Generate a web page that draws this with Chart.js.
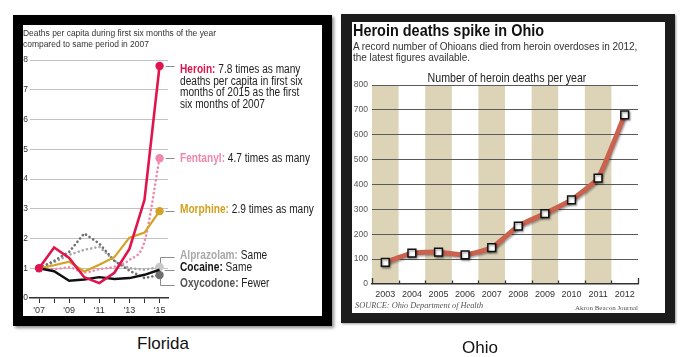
<!DOCTYPE html>
<html><head><meta charset="utf-8">
<script src="https://cdn.jsdelivr.net/npm/chart.js@4.4.1/dist/chart.umd.min.js"></script>
<style>
html,body{margin:0;padding:0;background:#fff;width:696px;height:357px;overflow:hidden;}
body{position:relative;font-family:"Liberation Sans",Arial,sans-serif;}
.abs{position:absolute;white-space:nowrap;transform-origin:0 0;}
#flFrame{position:absolute;left:13px;top:15px;width:299px;height:291px;border:10px solid #000;box-shadow:2px 2px 3px rgba(0,0,0,0.45);background:#fff;}
#ohFrame{position:absolute;left:341px;top:14px;width:313px;height:291px;border-style:solid;border-color:#1c1c1c;border-width:8px 10px 10px 11px;box-shadow:1px 1px 2px rgba(0,0,0,0.4);background:#fff;}
canvas{position:absolute;left:0;top:0;}
.ann{font-size:12.5px;line-height:11.7px;color:#222;transform:scaleX(0.81);}
.ann b{font-weight:bold;}
</style>
</head><body>

<div id="flFrame"><canvas id="fl" width="299" height="291"></canvas></div>
<div id="ohFrame"><canvas id="oh" width="313" height="291"></canvas></div>

<!-- Florida texts -->
<div class="abs" style="left:23px;top:28px;font-size:9.2px;line-height:10.7px;color:#333;transform:scaleX(0.92);">Deaths per capita during first six months of the year<br>compared to same period in 2007</div>
<div class="abs ann" style="left:180px;top:64px;"><b style="color:#d9164b">Heroin:</b> 7.8 times as many<br>deaths per capita in first six<br>months of 2015 as the first<br>six months of 2007</div>
<div class="abs ann" style="left:180px;top:153px;"><b style="color:#ee88a8">Fentanyl:</b> 4.7 times as many</div>
<div class="abs ann" style="left:180px;top:204px;"><b style="color:#d3a01e">Morphine:</b> 2.9 times as many</div>
<div class="abs ann" style="left:180px;top:250px;"><b style="color:#a9a9a9">Alprazolam:</b> Same</div>
<div class="abs ann" style="left:180px;top:262px;"><b style="color:#111">Cocaine:</b> Same</div>
<div class="abs ann" style="left:180px;top:278px;"><b style="color:#555">Oxycodone:</b> Fewer</div>
<div class="abs" style="left:113px;width:100px;text-align:center;top:334px;font-size:17px;line-height:20px;color:#111;">Florida</div>

<!-- Ohio texts -->
<div class="abs" style="left:353px;top:23px;font-size:17px;line-height:16px;font-weight:bold;color:#111;transform:scaleX(0.85);">Heroin deaths spike in Ohio</div>
<div class="abs" style="left:353px;top:41px;font-size:10px;line-height:11px;letter-spacing:-0.05px;color:#333;">A record number of Ohioans died from heroin overdoses in 2012,<br>the latest figures available.</div>
<div class="abs" style="left:407px;width:200px;text-align:center;top:71px;font-size:12.8px;line-height:13px;color:#222;transform:scaleX(0.83);transform-origin:100px 0;">Number of heroin deaths per year</div>
<div class="abs" style="left:355px;top:301px;font-family:'Liberation Serif','Times New Roman',serif;font-style:italic;font-size:8.3px;line-height:9px;color:#555;">SOURCE: Ohio Department of Health</div>
<div class="abs" style="left:538px;width:100px;text-align:right;top:304px;font-family:'Liberation Serif','Times New Roman',serif;font-size:7px;line-height:8px;color:#555;">Akron Beacon Journal</div>
<div class="abs" style="left:430px;width:100px;text-align:center;top:338px;font-size:17px;line-height:20px;color:#111;">Ohio</div>

<script>
// ---------- Florida data ----------
const flYears      = [2007, 2008, 2009, 2010, 2011, 2012, 2013, 2014, 2015];
const flLabelYears = [2007, 2009, 2011, 2013, 2015];
const flYTicks     = [0, 1, 2, 3, 4, 5, 6, 7, 8];
const heroin     = [1, 1.70, 1.35, 0.70, 0.50, 0.85, 1.65, 3.30, 7.80];
const fentanyl   = [1, 0.97, 1.03, 0.86, 0.97, 1.05, 1.28, 1.90, 4.70];
const morphine   = [1, 1.10, 1.22, 0.89, 1.12, 1.37, 2.03, 2.20, 2.92];
const alprazolam = [1, 1.20, 1.45, 1.62, 1.72, 1.25, 1.00, 0.95, 1.04];
const oxycodone  = [1, 1.25, 1.55, 2.17, 1.83, 1.25, 0.92, 0.67, 0.77];
const cocaine    = [1, 0.90, 0.58, 0.62, 0.70, 0.64, 0.67, 0.78, 0.95];

// ---------- Ohio data ----------
const ohYears  = ['2003','2004','2005','2006','2007','2008','2009','2010','2011','2012'];
const ohDeaths = [87, 124, 128, 117, 146, 233, 283, 338, 426, 680];
const ohYTicks = [0, 100, 200, 300, 400, 500, 600, 700, 800];

const FONT = '"Liberation Sans",Arial,sans-serif';
const last = a => a[a.length - 1];
const pts = arr => arr.map((v, i) => ({x: flYears[i], y: v}));
const endR = (r, first) => flYears.map((_, i) => (i === flYears.length - 1 || (first && i === 0)) ? r : 0);

function line(label, data, color, opts) {
  return Object.assign({
    label, data: pts(data), borderColor: color, backgroundColor: color,
    pointBackgroundColor: color, pointBorderWidth: 0, pointRadius: endR(4.2),
    borderWidth: 2.4, tension: 0, fill: false
  }, opts || {});
}
const dotted = {borderDash: [0.1, 4.2], borderCapStyle: 'round', borderWidth: 2.6};

const flLeaders = {
  id: 'flLeaders',
  beforeDatasetsDraw(chart) {
    const {ctx, scales: {x, y}} = chart;
    const xe = x.getPixelForValue(last(flYears));
    const seg = (x1, y1, x2, y2) => { ctx.beginPath(); ctx.moveTo(x1, y1); ctx.lineTo(x2, y2); ctx.stroke(); };
    ctx.save();
    ctx.strokeStyle = '#8c8c8c'; ctx.lineWidth = 1;
    [heroin, fentanyl, morphine].forEach(a => {
      const yy = Math.round(y.getPixelForValue(last(a))) + 0.5;
      seg(xe + 6, yy, xe + 15, yy);
    });
    const ya = Math.round(y.getPixelForValue(last(alprazolam))) - 9.5;
    const yo = Math.round(y.getPixelForValue(last(oxycodone))) + 10.5;
    const yc = Math.round(y.getPixelForValue(last(cocaine))) + 0.5;
    const xv = Math.round(xe) + 0.5;
    seg(xv, ya, xv, yo);
    seg(xv, ya, xe + 15, ya);
    seg(xv, yo, xe + 15, yo);
    seg(xe + 5, yc, xe + 15, yc);
    ctx.restore();
  }
};

new Chart(document.getElementById('fl'), {
  type: 'line',
  data: {
    datasets: [
      line('Heroin', heroin, '#e0154d', {borderWidth: 2.6, pointRadius: endR(4.2, true)}),
      line('Cocaine', cocaine, '#111111', {pointRadius: 0}),
      line('Morphine', morphine, '#d4a224', {borderWidth: 2.2}),
      line('Fentanyl', fentanyl, '#f08aab', Object.assign({}, dotted, {cubicInterpolationMode: 'monotone'})),
      line('Oxycodone', oxycodone, '#6f6f6f', Object.assign({}, dotted)),
      line('Alprazolam', alprazolam, '#a9a9a9', Object.assign({}, dotted, {pointBackgroundColor: '#c9c9c9'}))
    ]
  },
  options: {
    responsive: false, animation: false, devicePixelRatio: 1,
    layout: {padding: {left: 0, top: 35, right: 154, bottom: 0}},
    plugins: {legend: {display: false}, tooltip: {enabled: false}},
    scales: {
      x: {
        type: 'linear', min: 2006.4, max: 2015.56,
        afterBuildTicks: s => { s.ticks = flYears.map(v => ({value: v})); },
        afterFit: s => { s.height = 18; },
        ticks: {autoSkip: false, maxRotation: 0, padding: 2, color: '#333',
          font: {family: FONT, size: 9},
          callback: v => flLabelYears.includes(v) ? "'" + String(v).slice(2) : ''},
        grid: {drawOnChartArea: false, drawTicks: true, tickLength: 5, color: '#333', lineWidth: 1},
        border: {display: true, color: '#333', width: 1.5}
      },
      y: {
        min: 0, max: 8,
        afterBuildTicks: s => { s.ticks = flYTicks.map(v => ({value: v})); },
        afterFit: s => { s.width = 7; },
        ticks: {padding: 2, color: '#333', font: {family: FONT, size: 8.5}},
        grid: {drawTicks: false, color: c => c.tick && c.tick.value === 0 ? 'rgba(0,0,0,0)' : '#c2c2c2', lineWidth: 1},
        border: {display: false}
      }
    }
  },
  plugins: [flLeaders]
});

// ---------- Ohio ----------
const ohDecor = {
  id: 'ohDecor',
  beforeDraw(chart) {
    const {ctx, chartArea: a, scales: {x, y}} = chart;
    const w = (a.right - a.left) / ohYears.length;
    const top = y.getPixelForValue(y.max);
    ctx.save();
    ctx.fillStyle = '#ddd4b8';
    ohYears.forEach((_, i) => {
      if (i % 2 === 0) {
        const cx = x.getPixelForValue(i);
        ctx.fillRect(cx - w / 2, top, w, a.bottom - top);
      }
    });
    ctx.restore();
  },
  afterDatasetsDraw(chart) {
    const {ctx, chartArea: a} = chart;
    const w = (a.right - a.left) / ohYears.length;
    ctx.save();
    ctx.strokeStyle = '#333'; ctx.lineWidth = 1.3;
    for (let i = 0; i <= ohYears.length; i++) {
      const xx = Math.round(a.left + i * w) + 0.5;
      const h = (i === 0 || i === ohYears.length) ? 6 : 3.5;
      ctx.beginPath(); ctx.moveTo(xx, a.bottom); ctx.lineTo(xx, a.bottom - h); ctx.stroke();
    }
    ctx.restore();
  },
  beforeDatasetDraw(chart) {
    const ctx = chart.ctx;
    ctx.save();
    ctx.shadowColor = 'rgba(0,0,0,0.35)'; ctx.shadowBlur = 2; ctx.shadowOffsetX = 1; ctx.shadowOffsetY = 1.5;
  },
  afterDatasetDraw(chart) { chart.ctx.restore(); }
};

new Chart(document.getElementById('oh'), {
  type: 'line',
  data: {
    labels: ohYears,
    datasets: [{
      label: 'Heroin deaths', data: ohDeaths,
      borderColor: '#c9624f', borderWidth: 5, borderJoinStyle: 'round', borderCapStyle: 'round',
      tension: 0.15, pointStyle: 'rect', pointRadius: 5.5,
      pointBackgroundColor: '#ffffff', pointBorderColor: '#111', pointBorderWidth: 1.5
    }]
  },
  options: {
    responsive: false, animation: false, devicePixelRatio: 1,
    layout: {padding: {left: 0, top: 63, right: 27, bottom: 0}},
    plugins: {legend: {display: false}, tooltip: {enabled: false}},
    scales: {
      x: {
        type: 'category', offset: true,
        afterFit: s => { s.height = 29; },
        ticks: {autoSkip: false, maxRotation: 0, padding: 5, color: '#333', font: {family: FONT, size: 9}},
        grid: {display: false, drawTicks: false},
        border: {display: true, color: '#333', width: 1.5}
      },
      y: {
        min: 0, max: 800,
        afterBuildTicks: s => { s.ticks = ohYTicks.map(v => ({value: v})); },
        afterFit: s => { s.width = 20; },
        ticks: {padding: 4, color: '#555', font: {family: FONT, size: 8.5}},
        grid: {drawTicks: false, color: c => c.tick && c.tick.value === 0 ? 'rgba(0,0,0,0)' : '#5a5a5a', lineWidth: 1},
        border: {display: false}
      }
    }
  },
  plugins: [ohDecor]
});
</script>
</body></html>
